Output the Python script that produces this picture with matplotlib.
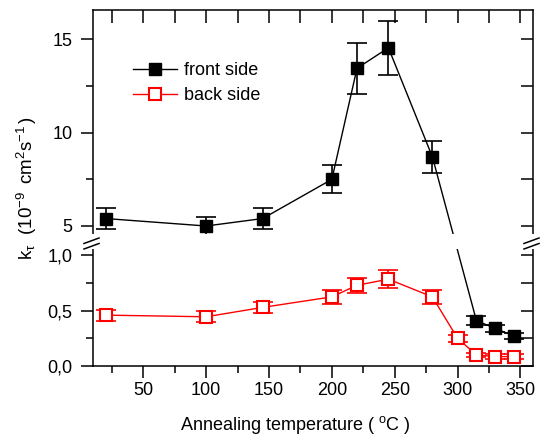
import numpy as np
import matplotlib
matplotlib.use('Agg')
import matplotlib.pyplot as plt
from matplotlib.patches import Rectangle
from matplotlib.lines import Line2D
from matplotlib.ticker import FixedLocator, FixedFormatter, NullFormatter

plt.rcParams['font.family'] = ['Liberation Sans', 'DejaVu Sans']
plt.rcParams['font.size'] = 13
plt.rcParams['mathtext.fontset'] = 'custom'
plt.rcParams['mathtext.rm'] = 'Liberation Sans'
plt.rcParams['mathtext.it'] = 'Liberation Sans:italic'
plt.rcParams['mathtext.default'] = 'regular'

# ---- data ----
temps_front = [20, 100, 145, 200, 220, 245, 280, 315, 330, 345]
front = [5.4, 5.0, 5.4, 7.5, 13.45, 14.55, 8.7, 0.41, 0.34, 0.27]
front_err = [0.55, 0.5, 0.55, 0.75, 1.35, 1.45, 0.85, 0.04, 0.03, 0.03]

temps_back = [20, 100, 145, 200, 220, 245, 280, 300, 315, 330, 345]
back = [0.46, 0.445, 0.53, 0.625, 0.73, 0.785, 0.625, 0.25, 0.10, 0.085, 0.085]
back_err = [0.05, 0.05, 0.05, 0.06, 0.07, 0.08, 0.06, 0.03, 0.02, 0.02, 0.02]

xticks = [50, 100, 150, 200, 250, 300, 350]
xminor = [25, 75, 125, 175, 225, 275, 325]
yticks = [0.0, 0.5, 1.0, 5, 10, 15]
ytick_labels = ['0,0', '0,5', '1,0', '5', '10', '15']
yminor = [0.25, 0.75, 7.5, 12.5]

# ---- broken y scale (piecewise linear) ----
S1, S2 = 110.6, 18.66
H1, H2 = 123.0, 124.0
B1 = H1 / S1
B2 = 5 - (140.0 - H2) / S2

def fwd(y):
    y = np.asarray(y, float)
    return np.where(y <= B1, y * S1,
                    np.where(y >= B2, H2 + (y - B2) * S2,
                             H1 + (y - B1) * (H2 - H1) / (B2 - B1)))

def inv(h):
    h = np.asarray(h, float)
    return np.where(h <= H1, h / S1,
                    np.where(h >= H2, B2 + (h - H2) / S2,
                             B1 + (h - H1) * (B2 - B1) / (H2 - H1)))

YTOP = B2 + (356.0 - H2) / S2

fig = plt.figure(figsize=(5.4, 4.37), dpi=100)
ax = fig.add_axes([93/540, 71/437, 440/540, 356/437])
ax.set_yscale('function', functions=(fwd, inv))
ax.set_xlim(10, 360)
ax.set_ylim(0, YTOP)

# error bars
ax.errorbar(temps_front, front, yerr=front_err, fmt='none', ecolor='black',
            elinewidth=1.2, capsize=7, capthick=1.2, zorder=2)
ax.errorbar(temps_back, back, yerr=back_err, fmt='none', ecolor='#ff0000',
            elinewidth=1.2, capsize=7, capthick=1.2, zorder=2)
# lines + markers
ax.plot(temps_front, front, '-', color='black', lw=1.0, marker='s', ms=8.5,
        mfc='black', mec='black', label='front side', zorder=2.2)
ax.plot(temps_back, back, '-', color='#ff0000', lw=1.0, marker='s', ms=8.5,
        mfc='white', mec='#ff0000', mew=1.5, label='back side', zorder=2.2)

# ticks (left / bottom outward)
ax.yaxis.set_major_locator(FixedLocator(yticks))
ax.yaxis.set_major_formatter(FixedFormatter(ytick_labels))
ax.yaxis.set_minor_locator(FixedLocator(yminor))
ax.yaxis.set_minor_formatter(NullFormatter())
ax.xaxis.set_major_locator(FixedLocator(xticks))
ax.xaxis.set_minor_locator(FixedLocator(xminor))
ax.tick_params(which='major', direction='out', length=8.6, width=1.1, labelsize=13)
ax.tick_params(axis='y', which='major', pad=6)
ax.tick_params(axis='x', which='major', pad=3)
ax.tick_params(which='minor', direction='out', length=5, width=1.1)
for s in ax.spines.values():
    s.set_linewidth(1.1)

# top / right inward ticks
axt = ax.twiny()
axt.set_xlim(ax.get_xlim())
axt.xaxis.set_major_locator(FixedLocator(sorted(xticks + xminor)))
axt.tick_params(axis='x', direction='in', length=9, width=1.1, labeltop=False)
axr = ax.twinx()
axr.set_yscale('function', functions=(fwd, inv))
axr.set_ylim(0, YTOP)
axr.yaxis.set_major_locator(FixedLocator(sorted(yticks + yminor)))
axr.yaxis.set_minor_locator(FixedLocator([]))
axr.tick_params(axis='y', direction='in', length=9, width=1.1, labelright=False)
for a in (axt, axr):
    for s in a.spines.values():
        s.set_visible(False)

# break band and marks
ax.add_patch(Rectangle((-0.03, 117/356), 1.06, 15/356, transform=ax.transAxes,
                       facecolor='white', edgecolor='none', zorder=3, clip_on=False))
for xs in (0.0, 1.0):
    for hc in (125.5, 120.0):
        ax.add_line(Line2D([xs - 9/440, xs + 6/440], [(hc - 3)/356, (hc + 2.5)/356],
                           transform=ax.transAxes, color='black', lw=1.1,
                           zorder=4, clip_on=False))

ax.set_xlabel('Annealing temperature ( $^{o}$C )', fontsize=13)
ax.xaxis.set_label_coords(0.459, -0.135)
ax.set_ylabel(r'k$_{\tau}$  (10$^{-9}\,$ cm$^{2}$s$^{-1}\,$)', fontsize=13.5, labelpad=6)

leg = ax.legend(loc='upper left', bbox_to_anchor=(40/440, 1 - 52/356), frameon=False,
                handlelength=2.45, handletextpad=0.35, labelspacing=0.45,
                borderaxespad=0, borderpad=0, fontsize=13)

fig.savefig('out.png', dpi=100)
